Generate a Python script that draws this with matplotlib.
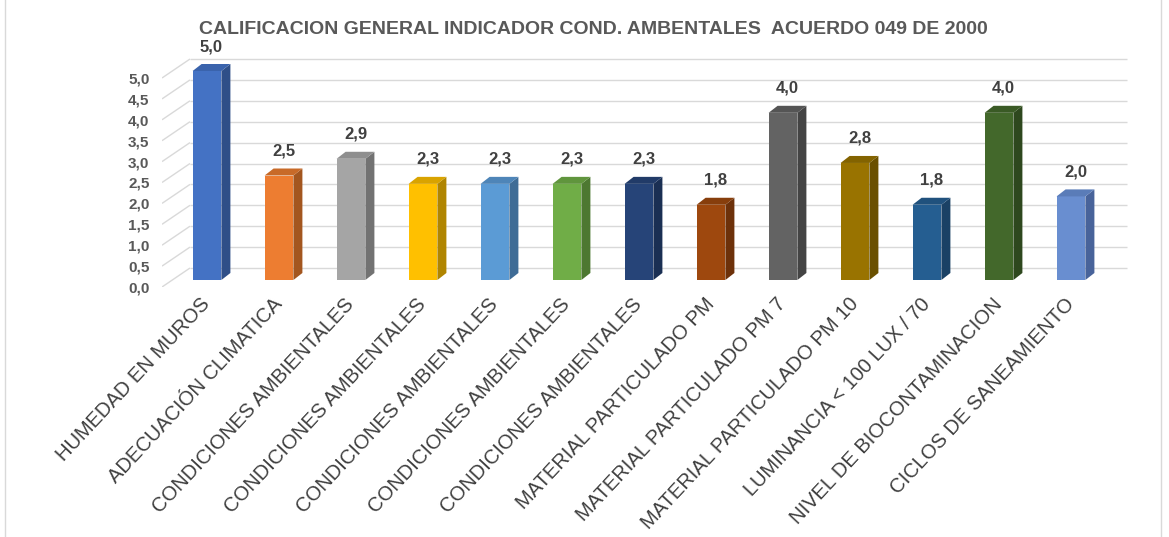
import matplotlib
matplotlib.use("Agg")
import matplotlib.pyplot as plt
from matplotlib.patches import Polygon, Rectangle
from matplotlib.transforms import ScaledTranslation
from matplotlib import font_manager

categories = [
    "HUMEDAD EN MUROS",
    "ADECUACIÓN CLIMATICA",
    "CONDICIONES AMBIENTALES",
    "CONDICIONES AMBIENTALES",
    "CONDICIONES AMBIENTALES",
    "CONDICIONES AMBIENTALES",
    "CONDICIONES AMBIENTALES",
    "MATERIAL PARTICULADO PM",
    "MATERIAL PARTICULADO PM 7",
    "MATERIAL PARTICULADO PM 10",
    "LUMINANCIA < 100 LUX / 70",
    "NIVEL DE BIOCONTAMINACION",
    "CICLOS DE SANEAMIENTO",
]
values = [5.0, 2.5, 2.9, 2.3, 2.3, 2.3, 2.3, 1.8, 4.0, 2.8, 1.8, 4.0, 2.0]
front_colors = ["#4472C4", "#ED7D31", "#A5A5A5", "#FFC000", "#5B9BD5", "#70AD47",
                "#264478", "#9E480E", "#636363", "#997300", "#255E91", "#43682B", "#698ED0"]
side_colors = ["#2F4F88", "#A3561F", "#727272", "#B08500", "#3F6C96", "#4D7831",
               "#1A2F53", "#6D310A", "#444444", "#6A5000", "#1A4165", "#2E481E", "#48639A"]
top_colors = ["#3A63AC", "#C86A28", "#8E8E8E", "#D9A300", "#4E85B8", "#60953D",
              "#213B68", "#873E0C", "#555555", "#836300", "#20517D", "#3A5A25", "#5A7CB8"]
yticks = [0.0, 0.5, 1.0, 1.5, 2.0, 2.5, 3.0, 3.5, 4.0, 4.5, 5.0]
title = "CALIFICACION GENERAL INDICADOR COND. AMBENTALES  ACUERDO 049 DE 2000"

available = {f.name for f in font_manager.fontManager.ttflist}
narrow = "Liberation Sans Narrow" if "Liberation Sans Narrow" in available else "Liberation Sans"
plt.rcParams["font.family"] = ["Liberation Sans", "DejaVu Sans"]

W, H, DPI = 1169, 537, 100
fig = plt.figure(figsize=(W / DPI, H / DPI), dpi=DPI)
fig.patch.set_facecolor("white")

# axes geometry in pixels
left_px, right_px, bottom_px, top_px = 162, 1130, 287, 50
ax = fig.add_axes([left_px / W, (H - bottom_px) / H,
                   (right_px - left_px) / W, (bottom_px - top_px) / H])
xpx_per_unit = 72.0
ypx_per_unit = 41.8
first_center_px = 207
ax.set_xlim((left_px - first_center_px) / xpx_per_unit,
            (right_px - first_center_px) / xpx_per_unit)
ax.set_ylim(0, (bottom_px - top_px) / ypx_per_unit)
for s in ax.spines.values():
    s.set_visible(False)
ax.set_facecolor("none")


def px2data(dxp, dyp):
    o = ax.transData.transform((0, 0))
    inv = ax.transData.inverted()
    p = inv.transform((o[0] + dxp, o[1] + dyp))
    q = inv.transform(o)
    return p[0] - q[0], p[1] - q[1]


x0, x1 = ax.get_xlim()
# back-wall gridlines and left-wall diagonals
wdx, wdy = px2data(28, 19)
xend = x0 + px2data(right_px - 3 - left_px, 0)[0]
for v in yticks:
    ax.plot([x0, x0 + wdx], [v, v + wdy], color="#D9D9D9", lw=1.0, zorder=1,
            solid_capstyle="butt")
    ax.plot([x0 + wdx, xend], [v + wdy, v + wdy], color="#D9D9D9", lw=1.0, zorder=1,
            solid_capstyle="butt")

# bars (pseudo-3D)
bar_shift = ax.transData + ScaledTranslation(0, 7 / DPI, fig.dpi_scale_trans)
bw = 0.4
ddx, ddy = px2data(9, 7)
xs = list(range(len(values)))
bars = ax.bar(xs, values, width=bw, color=front_colors, edgecolor="none",
              transform=bar_shift, zorder=3)
for i, v in enumerate(values):
    xl, xr = i - bw / 2, i + bw / 2
    side = Polygon([(xr, 0), (xr + ddx, ddy), (xr + ddx, v + ddy), (xr, v)],
                   closed=True, facecolor=side_colors[i], edgecolor="none",
                   transform=bar_shift, zorder=3)
    top = Polygon([(xl, v), (xl + ddx, v + ddy), (xr + ddx, v + ddy), (xr, v)],
                  closed=True, facecolor=top_colors[i], edgecolor="none",
                  transform=bar_shift, zorder=3)
    ax.add_patch(side)
    ax.add_patch(top)
    lab_tr = ax.transData + ScaledTranslation(0, 27 / DPI, fig.dpi_scale_trans)
    ax.text(i + ddx / 2, v, f"{v:.1f}".replace(".", ","), transform=lab_tr,
            ha="center", va="baseline", fontsize=12, fontweight="bold",
            color="#404040", zorder=4)

# ticks
ax.set_yticks(yticks)
ax.set_yticklabels([f"{t:.1f}".replace(".", ",") for t in yticks],
                   fontsize=11, fontweight="bold", color="#595959")
ax.tick_params(axis="y", length=0, pad=9)
ax.set_xticks(xs)
ax.set_xticklabels(categories, rotation=47, ha="right", va="center",
                   rotation_mode="anchor", fontsize=14.5, color="#404040")
ax.tick_params(axis="x", length=0, pad=10)

fig.text(593 / W, 1 - 30 / H, title, ha="center", va="center",
         fontsize=14, fontweight="bold", color="#595959", family=[narrow, "DejaVu Sans"])

# chart area border
fig.add_artist(Rectangle((5 / W, -0.01), (1161 - 5) / W, 1.02, transform=fig.transFigure,
                         fill=False, edgecolor="#D9D9D9", lw=1.0))

fig.savefig("out.png", dpi=DPI, facecolor="white")
